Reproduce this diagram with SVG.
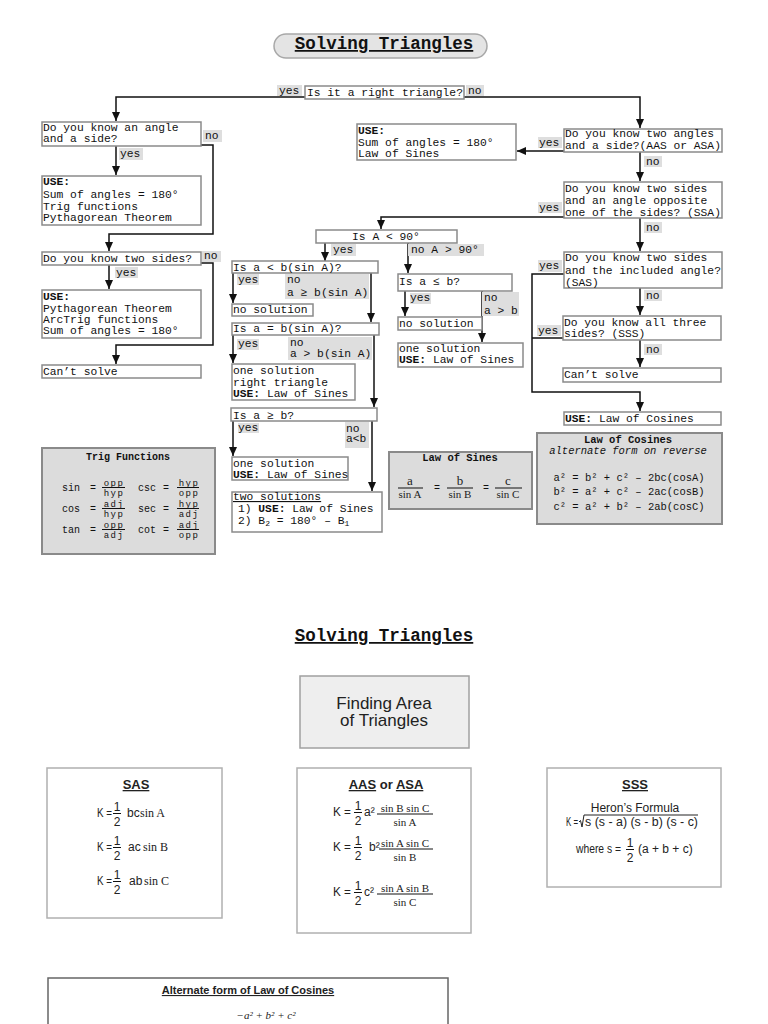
<svg xmlns="http://www.w3.org/2000/svg" width="768" height="1024" viewBox="0 0 768 1024">
<style>
.box{fill:#fff;stroke:#8a8a8a;stroke-width:1.5}
.gbox{fill:#dcdcdc;stroke:#8a8a8a;stroke-width:2}
.abox{fill:#fff;stroke:#b0b0b0;stroke-width:1.5}
.lbl{fill:#dedede}
.t{font-family:"Liberation Mono","Courier New",monospace;font-size:11.3px;fill:#111}
.tr{font-family:"Liberation Mono","Courier New",monospace;font-size:10px;fill:#111}
.fr{font-family:"Liberation Mono","Courier New",monospace;font-size:9px;fill:#111;text-anchor:middle;letter-spacing:1.5px}
.b{font-weight:bold}
.u{text-decoration:underline}
.c{stroke:#111;stroke-width:1.5;fill:none;marker-end:url(#ah)}
.cn{stroke:#111;stroke-width:1.5;fill:none}
.bar{stroke:#111;stroke-width:1}
.s{font-family:"Liberation Sans",Arial,sans-serif;fill:#222}
.sf{font-family:"Liberation Serif","Times New Roman",serif;fill:#222}
.mid{text-anchor:middle}
</style>
<defs>
<marker id="ah" markerUnits="userSpaceOnUse" markerWidth="9" markerHeight="8" refX="9" refY="4" orient="auto">
<path d="M0,0 L9,4 L0,8 z" fill="#111"/>
</marker>
</defs>
<rect width="768" height="1024" fill="#fff"/>

<g id="connectors">
<path class="c" d="M305,97 H116 V121"/>
<path class="c" d="M464,97 H640 V128"/>
<path class="c" d="M116,146 V175"/>
<path class="c" d="M201,145 H213 V234 H109 V251"/>
<path class="c" d="M109,265 V289"/>
<path class="c" d="M201,263 H213 V345 H116 V364"/>
<path class="c" d="M564,151 H517"/>
<path class="c" d="M640,152 V181"/>
<path class="c" d="M564,217 H381 V229"/>
<path class="c" d="M640,218 V251"/>
<path class="c" d="M564,274 H532 V392 H640 V411"/>
<path class="c" d="M640,288 V315"/>
<path class="cn" d="M563,338 H532"/>
<path class="c" d="M640,340 V367"/>
<path class="c" d="M325,243 V261"/>
<path class="c" d="M408,243 V273"/>
<path class="c" d="M233,273 V303"/>
<path class="c" d="M371,273 V322"/>
<path class="c" d="M233,335 V363"/>
<path class="c" d="M374,335 V407"/>
<path class="c" d="M405,291 V316"/>
<path class="c" d="M482,291 V342"/>
<path class="c" d="M233,421 V456"/>
<path class="c" d="M372,421 V491"/>
</g>

<g id="labels">
<rect class="lbl" x="277" y="85" width="25" height="11"/><text class="t" x="279" y="94">yes</text>
<rect class="lbl" x="466" y="85" width="18" height="11"/><text class="t" x="468" y="94">no</text>
<rect class="lbl" x="203" y="130" width="19" height="12"/><text class="t" x="205" y="139">no</text>
<rect class="lbl" x="119" y="148" width="24" height="12"/><text class="t" x="120" y="157">yes</text>
<rect class="lbl" x="202" y="251" width="19" height="11"/><text class="t" x="204" y="259">no</text>
<rect class="lbl" x="115" y="267" width="23" height="11"/><text class="t" x="116" y="276">yes</text>
<rect class="lbl" x="538" y="137" width="24" height="11"/><text class="t" x="539" y="146">yes</text>
<rect class="lbl" x="644" y="156" width="18" height="11"/><text class="t" x="646" y="165">no</text>
<rect class="lbl" x="538" y="202" width="24" height="11"/><text class="t" x="539" y="211">yes</text>
<rect class="lbl" x="644" y="222" width="18" height="11"/><text class="t" x="646" y="231">no</text>
<rect class="lbl" x="538" y="260" width="24" height="12"/><text class="t" x="539" y="269">yes</text>
<rect class="lbl" x="644" y="290" width="18" height="11"/><text class="t" x="646" y="299">no</text>
<rect class="lbl" x="537" y="325" width="24" height="11"/><text class="t" x="538" y="334">yes</text>
<rect class="lbl" x="644" y="344" width="18" height="11"/><text class="t" x="646" y="353">no</text>
<rect class="lbl" x="331" y="244" width="25" height="12"/><text class="t" x="333" y="253">yes</text>
<rect class="lbl" x="408" y="244" width="76" height="12"/><text class="t" x="411" y="253">no A &gt; 90°</text>
<rect class="lbl" x="237" y="274" width="22" height="11"/><text class="t" x="238" y="283">yes</text>
<rect class="lbl" x="285" y="274" width="84" height="25"/><text class="t" x="287" y="283">no</text><text class="t" x="287" y="296">a ≥ b(sin A)</text>
<rect class="lbl" x="237" y="339" width="22" height="11"/><text class="t" x="238" y="347">yes</text>
<rect class="lbl" x="288" y="337" width="84" height="23"/><text class="t" x="290" y="346">no</text><text class="t" x="290" y="357">a &gt; b(sin A)</text>
<rect class="lbl" x="410" y="293" width="21" height="11"/><text class="t" x="410" y="301">yes</text>
<rect class="lbl" x="482" y="292" width="37" height="24"/><text class="t" x="484" y="301">no</text><text class="t" x="484" y="314">a &gt; b</text>
<rect class="lbl" x="238" y="423" width="21" height="10"/><text class="t" x="238" y="431">yes</text>
<rect class="lbl" x="345" y="422" width="24" height="26"/><text class="t" x="346" y="432">no</text><text class="t" x="346" y="442">a&lt;b</text>
</g>

<g id="n-title">
<rect x="274" y="34" width="213" height="24" rx="12" fill="#e4e4e4" stroke="#a8a8a8" stroke-width="1.5"/>
<text class="t b u mid" x="384" y="49" style="font-size:17.5px">Solving Triangles</text>
</g>
<g id="n-right"><rect class="box" x="305" y="86" width="159" height="13"/><text class="t" x="307" y="96">Is it a right triangle?</text></g>

<g id="n-angleside"><rect class="box" x="42" y="122" width="159" height="24"/><text class="t" x="43" y="130.5">Do you know an angle</text><text class="t" x="43" y="142">and a side?</text></g>
<g id="n-use1"><rect class="box" x="42" y="176" width="159" height="49"/><text class="t b" x="43" y="185">USE:</text><text class="t" x="43" y="197.5">Sum of angles = 180°</text><text class="t" x="43" y="209.5">Trig functions</text><text class="t" x="43" y="221">Pythagorean Theorem</text></g>
<g id="n-twosides"><rect class="box" x="42" y="252" width="159" height="13"/><text class="t" x="43" y="262">Do you know two sides?</text></g>
<g id="n-use2"><rect class="box" x="42" y="290" width="159" height="48"/><text class="t b" x="43" y="299.5">USE:</text><text class="t" x="43" y="311.5">Pythagorean Theorem</text><text class="t" x="43" y="322.5">ArcTrig functions</text><text class="t" x="43" y="333.5">Sum of angles = 180°</text></g>
<g id="n-cant1"><rect class="box" x="42" y="365" width="159" height="13"/><text class="t" x="43" y="375">Can’t solve</text></g>

<g id="n-use3"><rect class="box" x="357" y="124" width="159" height="36"/><text class="t b" x="358" y="133.5">USE:</text><text class="t" x="358" y="145.5">Sum of angles = 180°</text><text class="t" x="358" y="156.5">Law of Sines</text></g>
<g id="n-aas"><rect class="box" x="564" y="129" width="158" height="23"/><text class="t" x="565" y="136.5">Do you know two angles</text><text class="t" x="565" y="148.5">and a side?(AAS or ASA)</text></g>
<g id="n-ssa"><rect class="box" x="564" y="182" width="158" height="36"/><text class="t" x="565" y="191.5">Do you know two sides</text><text class="t" x="565" y="203.5">and an angle opposite</text><text class="t" x="565" y="215.5">one of the sides? (SSA)</text></g>
<g id="n-sas"><rect class="box" x="564" y="252" width="158" height="36"/><text class="t" x="565" y="260.5">Do you know two sides</text><text class="t" x="565" y="273.5">and the included angle?</text><text class="t" x="565" y="285.5">(SAS)</text></g>
<g id="n-sss"><rect class="box" x="563" y="316" width="158" height="24"/><text class="t" x="564" y="325.5">Do you know all three</text><text class="t" x="564" y="336.5">sides? (SSS)</text></g>
<g id="n-cant2"><rect class="box" x="563" y="368" width="158" height="14"/><text class="t" x="564" y="377.5">Can’t solve</text></g>
<g id="n-usecos"><rect class="box" x="564" y="412" width="157" height="13"/><text class="t" x="565" y="421.5"><tspan class="b">USE:</tspan> Law of Cosines</text></g>

<g id="n-a90"><rect class="box" x="316" y="230" width="141" height="13"/><text class="t mid" x="386" y="240">Is A &lt; 90°</text></g>
<g id="n-altbsin"><rect class="box" x="232" y="261" width="146" height="12"/><text class="t" x="233" y="271">Is a &lt; b(sin A)?</text></g>
<g id="n-nosol1"><rect class="box" x="232" y="304" width="81" height="12"/><text class="t" x="233" y="313">no solution</text></g>
<g id="n-aeqbsin"><rect class="box" x="232" y="323" width="147" height="12"/><text class="t" x="233" y="332">Is a = b(sin A)?</text></g>
<g id="n-onesol1"><rect class="box" x="232" y="364" width="123" height="36"/><text class="t" x="233" y="373.5">one solution</text><text class="t" x="233" y="385.5">right triangle</text><text class="t" x="233" y="396.5"><tspan class="b">USE:</tspan> Law of Sines</text></g>
<g id="n-aleb"><rect class="box" x="398" y="274" width="114" height="17"/><text class="t" x="399" y="285">Is a ≤ b?</text></g>
<g id="n-nosol2"><rect class="box" x="398" y="317" width="84" height="13"/><text class="t" x="399" y="327">no solution</text></g>
<g id="n-onesol2"><rect class="box" x="398" y="343" width="125" height="24"/><text class="t" x="399" y="351.5">one solution</text><text class="t" x="399" y="362.5"><tspan class="b">USE:</tspan> Law of Sines</text></g>
<g id="n-ageb"><rect class="box" x="231" y="408" width="146" height="13"/><text class="t" x="233" y="418.5">Is a ≥ b?</text></g>
<g id="n-onesol3"><rect class="box" x="232" y="457" width="116" height="23"/><text class="t" x="233" y="466.5">one solution</text><text class="t" x="233" y="477.5"><tspan class="b">USE:</tspan> Law of Sines</text></g>
<g id="n-twosol"><rect class="box" x="232" y="492" width="150" height="40"/><text class="t u" x="233" y="500">two solutions</text><text class="t" x="238" y="512">1) <tspan class="b">USE:</tspan> Law of Sines</text><text class="t" x="238" y="524">2) B<tspan font-size="8" dy="2">2</tspan><tspan dy="-2"> = 180° – B</tspan><tspan font-size="8" dy="2">1</tspan></text></g>

<g id="n-trig">
<rect class="gbox" x="42" y="448" width="173" height="106"/>
<text class="tr b mid" x="128" y="460">Trig Functions</text>
<text class="tr" x="62" y="491">sin</text><text class="tr mid" x="93" y="491">=</text>
<text class="fr" x="114" y="485.5">opp</text><line class="bar" x1="102" y1="487.5" x2="125" y2="487.5"/><text class="fr" x="114" y="496">hyp</text>
<text class="tr" x="138" y="491">csc</text><text class="tr mid" x="166" y="491">=</text>
<text class="fr" x="189" y="485.5">hyp</text><line class="bar" x1="177" y1="487.5" x2="199" y2="487.5"/><text class="fr" x="189" y="496">opp</text>
<text class="tr" x="62" y="512">cos</text><text class="tr mid" x="93" y="512">=</text>
<text class="fr" x="114" y="506.5">adj</text><line class="bar" x1="102" y1="508.5" x2="125" y2="508.5"/><text class="fr" x="114" y="517">hyp</text>
<text class="tr" x="138" y="512">sec</text><text class="tr mid" x="166" y="512">=</text>
<text class="fr" x="189" y="506.5">hyp</text><line class="bar" x1="177" y1="508.5" x2="199" y2="508.5"/><text class="fr" x="189" y="517">adj</text>
<text class="tr" x="62" y="533">tan</text><text class="tr mid" x="93" y="533">=</text>
<text class="fr" x="114" y="527.5">opp</text><line class="bar" x1="102" y1="529.5" x2="125" y2="529.5"/><text class="fr" x="114" y="538">adj</text>
<text class="tr" x="138" y="533">cot</text><text class="tr mid" x="166" y="533">=</text>
<text class="fr" x="189" y="527.5">adj</text><line class="bar" x1="177" y1="529.5" x2="199" y2="529.5"/><text class="fr" x="189" y="538">opp</text>
</g>

<g id="n-lawsines">
<rect class="gbox" x="389" y="452" width="143" height="57"/>
<text class="tr b mid" x="460" y="461" style="font-size:10.5px">Law of Sines</text>
<text class="sf mid" x="410" y="485" font-size="13">a</text><line class="bar" x1="398" y1="488" x2="423" y2="488"/><text class="sf mid" x="410" y="497.5" font-size="11">sin A</text>
<text class="tr mid" x="437" y="491">=</text>
<text class="sf mid" x="460" y="485" font-size="13">b</text><line class="bar" x1="447" y1="488" x2="473" y2="488"/><text class="sf mid" x="460" y="497.5" font-size="11">sin B</text>
<text class="tr mid" x="486" y="491">=</text>
<text class="sf mid" x="508" y="485" font-size="13">c</text><line class="bar" x1="495" y1="488" x2="522" y2="488"/><text class="sf mid" x="508" y="497.5" font-size="11">sin C</text>
</g>

<g id="n-lawcos">
<rect class="gbox" x="537" y="433" width="185" height="91"/>
<text class="tr b mid" x="628" y="443" style="font-size:10.5px">Law of Cosines</text>
<text class="tr mid" x="628" y="454" font-style="italic" style="font-size:10.5px">alternate form on reverse</text>
<text class="tr mid" x="629" y="481" style="font-size:10.5px">a² = b² + c² – 2bc(cosA)</text>
<text class="tr mid" x="629" y="495" style="font-size:10.5px">b² = a² + c² – 2ac(cosB)</text>
<text class="tr mid" x="629" y="509.5" style="font-size:10.5px">c² = a² + b² – 2ab(cosC)</text>
</g>

<g id="n-title2"><text class="t b u mid" x="384" y="641" style="font-size:17.5px">Solving Triangles</text></g>
<g id="n-area"><rect x="300" y="676" width="169" height="72" fill="#eeeeee" stroke="#a0a0a0" stroke-width="1.5"/><text class="s mid" x="384" y="709" font-size="17">Finding Area</text><text class="s mid" x="384" y="726" font-size="17">of Triangles</text></g>

<g id="n-sas-area">
<rect class="abox" x="47" y="768" width="175" height="150"/>
<text class="s b u mid" x="136" y="789" font-size="13">SAS</text>
<text class="s" x="97" y="817" font-size="12" textLength="15" lengthAdjust="spacingAndGlyphs">K =</text><text class="s mid" x="117" y="811" font-size="12">1</text><line class="bar" x1="113" y1="813.5" x2="121" y2="813.5"/><text class="s mid" x="117" y="826" font-size="12">2</text><text class="s" x="127" y="817" font-size="12">bc</text><text class="sf" x="140" y="817" font-size="12">sin A</text>
<text class="s" x="97" y="851" font-size="12" textLength="15" lengthAdjust="spacingAndGlyphs">K =</text><text class="s mid" x="117" y="845" font-size="12">1</text><line class="bar" x1="113" y1="847.5" x2="121" y2="847.5"/><text class="s mid" x="117" y="860" font-size="12">2</text><text class="s" x="128" y="851" font-size="12">ac</text><text class="sf" x="143" y="851" font-size="12">sin B</text>
<text class="s" x="97" y="885" font-size="12" textLength="15" lengthAdjust="spacingAndGlyphs">K =</text><text class="s mid" x="117" y="879" font-size="12">1</text><line class="bar" x1="113" y1="881.5" x2="121" y2="881.5"/><text class="s mid" x="117" y="894" font-size="12">2</text><text class="s" x="129" y="885" font-size="12">ab</text><text class="sf" x="144" y="885" font-size="12">sin C</text>
</g>

<g id="n-aas-area">
<rect class="abox" x="297" y="768" width="174" height="165"/>
<text class="s b mid" x="386" y="789" font-size="13"><tspan class="u">AAS</tspan> or <tspan class="u">ASA</tspan></text>
<text class="s" x="333" y="816" font-size="12" textLength="18" lengthAdjust="spacingAndGlyphs">K =</text><text class="s mid" x="358" y="810" font-size="12">1</text><line class="bar" x1="354" y1="812.5" x2="362" y2="812.5"/><text class="s mid" x="358" y="825" font-size="12">2</text><text class="s" x="364" y="816" font-size="12">a²</text>
<text class="sf mid" x="405" y="811.5" font-size="11">sin B sin C</text><line class="bar" x1="377" y1="814" x2="433" y2="814"/><text class="sf mid" x="405" y="826" font-size="11">sin A</text>
<text class="s" x="333" y="851" font-size="12" textLength="18" lengthAdjust="spacingAndGlyphs">K =</text><text class="s mid" x="358" y="845" font-size="12">1</text><line class="bar" x1="354" y1="847.5" x2="362" y2="847.5"/><text class="s mid" x="358" y="860" font-size="12">2</text><text class="s" x="369" y="851" font-size="12">b²</text>
<text class="sf mid" x="405" y="846.5" font-size="11">sin A sin C</text><line class="bar" x1="379" y1="849" x2="433" y2="849"/><text class="sf mid" x="405" y="861" font-size="11">sin B</text>
<text class="s" x="333" y="896" font-size="12" textLength="18" lengthAdjust="spacingAndGlyphs">K =</text><text class="s mid" x="358" y="890" font-size="12">1</text><line class="bar" x1="354" y1="892.5" x2="362" y2="892.5"/><text class="s mid" x="358" y="905" font-size="12">2</text><text class="s" x="364" y="896" font-size="12">c²</text>
<text class="sf mid" x="405" y="891.5" font-size="11">sin A sin B</text><line class="bar" x1="377" y1="894" x2="433" y2="894"/><text class="sf mid" x="405" y="906" font-size="11">sin C</text>
</g>

<g id="n-sss-area">
<rect class="abox" x="547" y="768" width="174" height="119"/>
<text class="s b u mid" x="635" y="789" font-size="13">SSS</text>
<text class="s mid" x="635" y="812" font-size="12">Heron’s Formula</text>
<text class="s" x="566" y="826" font-size="12" textLength="12" lengthAdjust="spacingAndGlyphs">K =</text>
<path d="M579,822 L580.5,820.5 L582,827 L584,815 H698" stroke="#222" stroke-width="1" fill="none"/>
<text class="s" x="585" y="826" font-size="12" textLength="113" lengthAdjust="spacingAndGlyphs">s (s - a) (s - b) (s - c)</text>
<text class="s" x="576" y="853" font-size="12" textLength="45" lengthAdjust="spacingAndGlyphs">where s =</text><text class="s mid" x="630" y="847" font-size="12">1</text><line class="bar" x1="626" y1="849.5" x2="634" y2="849.5"/><text class="s mid" x="630" y="862" font-size="12">2</text><text class="s" x="638" y="853" font-size="12">(a + b + c)</text>
</g>

<g id="n-altcos">
<rect class="abox" x="48" y="978" width="400" height="60" style="stroke:#666"/>
<text class="s b u mid" x="248" y="994" font-size="11">Alternate form of Law of Cosines</text>
<text class="sf mid" x="266" y="1019" font-size="11" font-style="italic">−a² + b² + c²</text>
</g>
</svg>
